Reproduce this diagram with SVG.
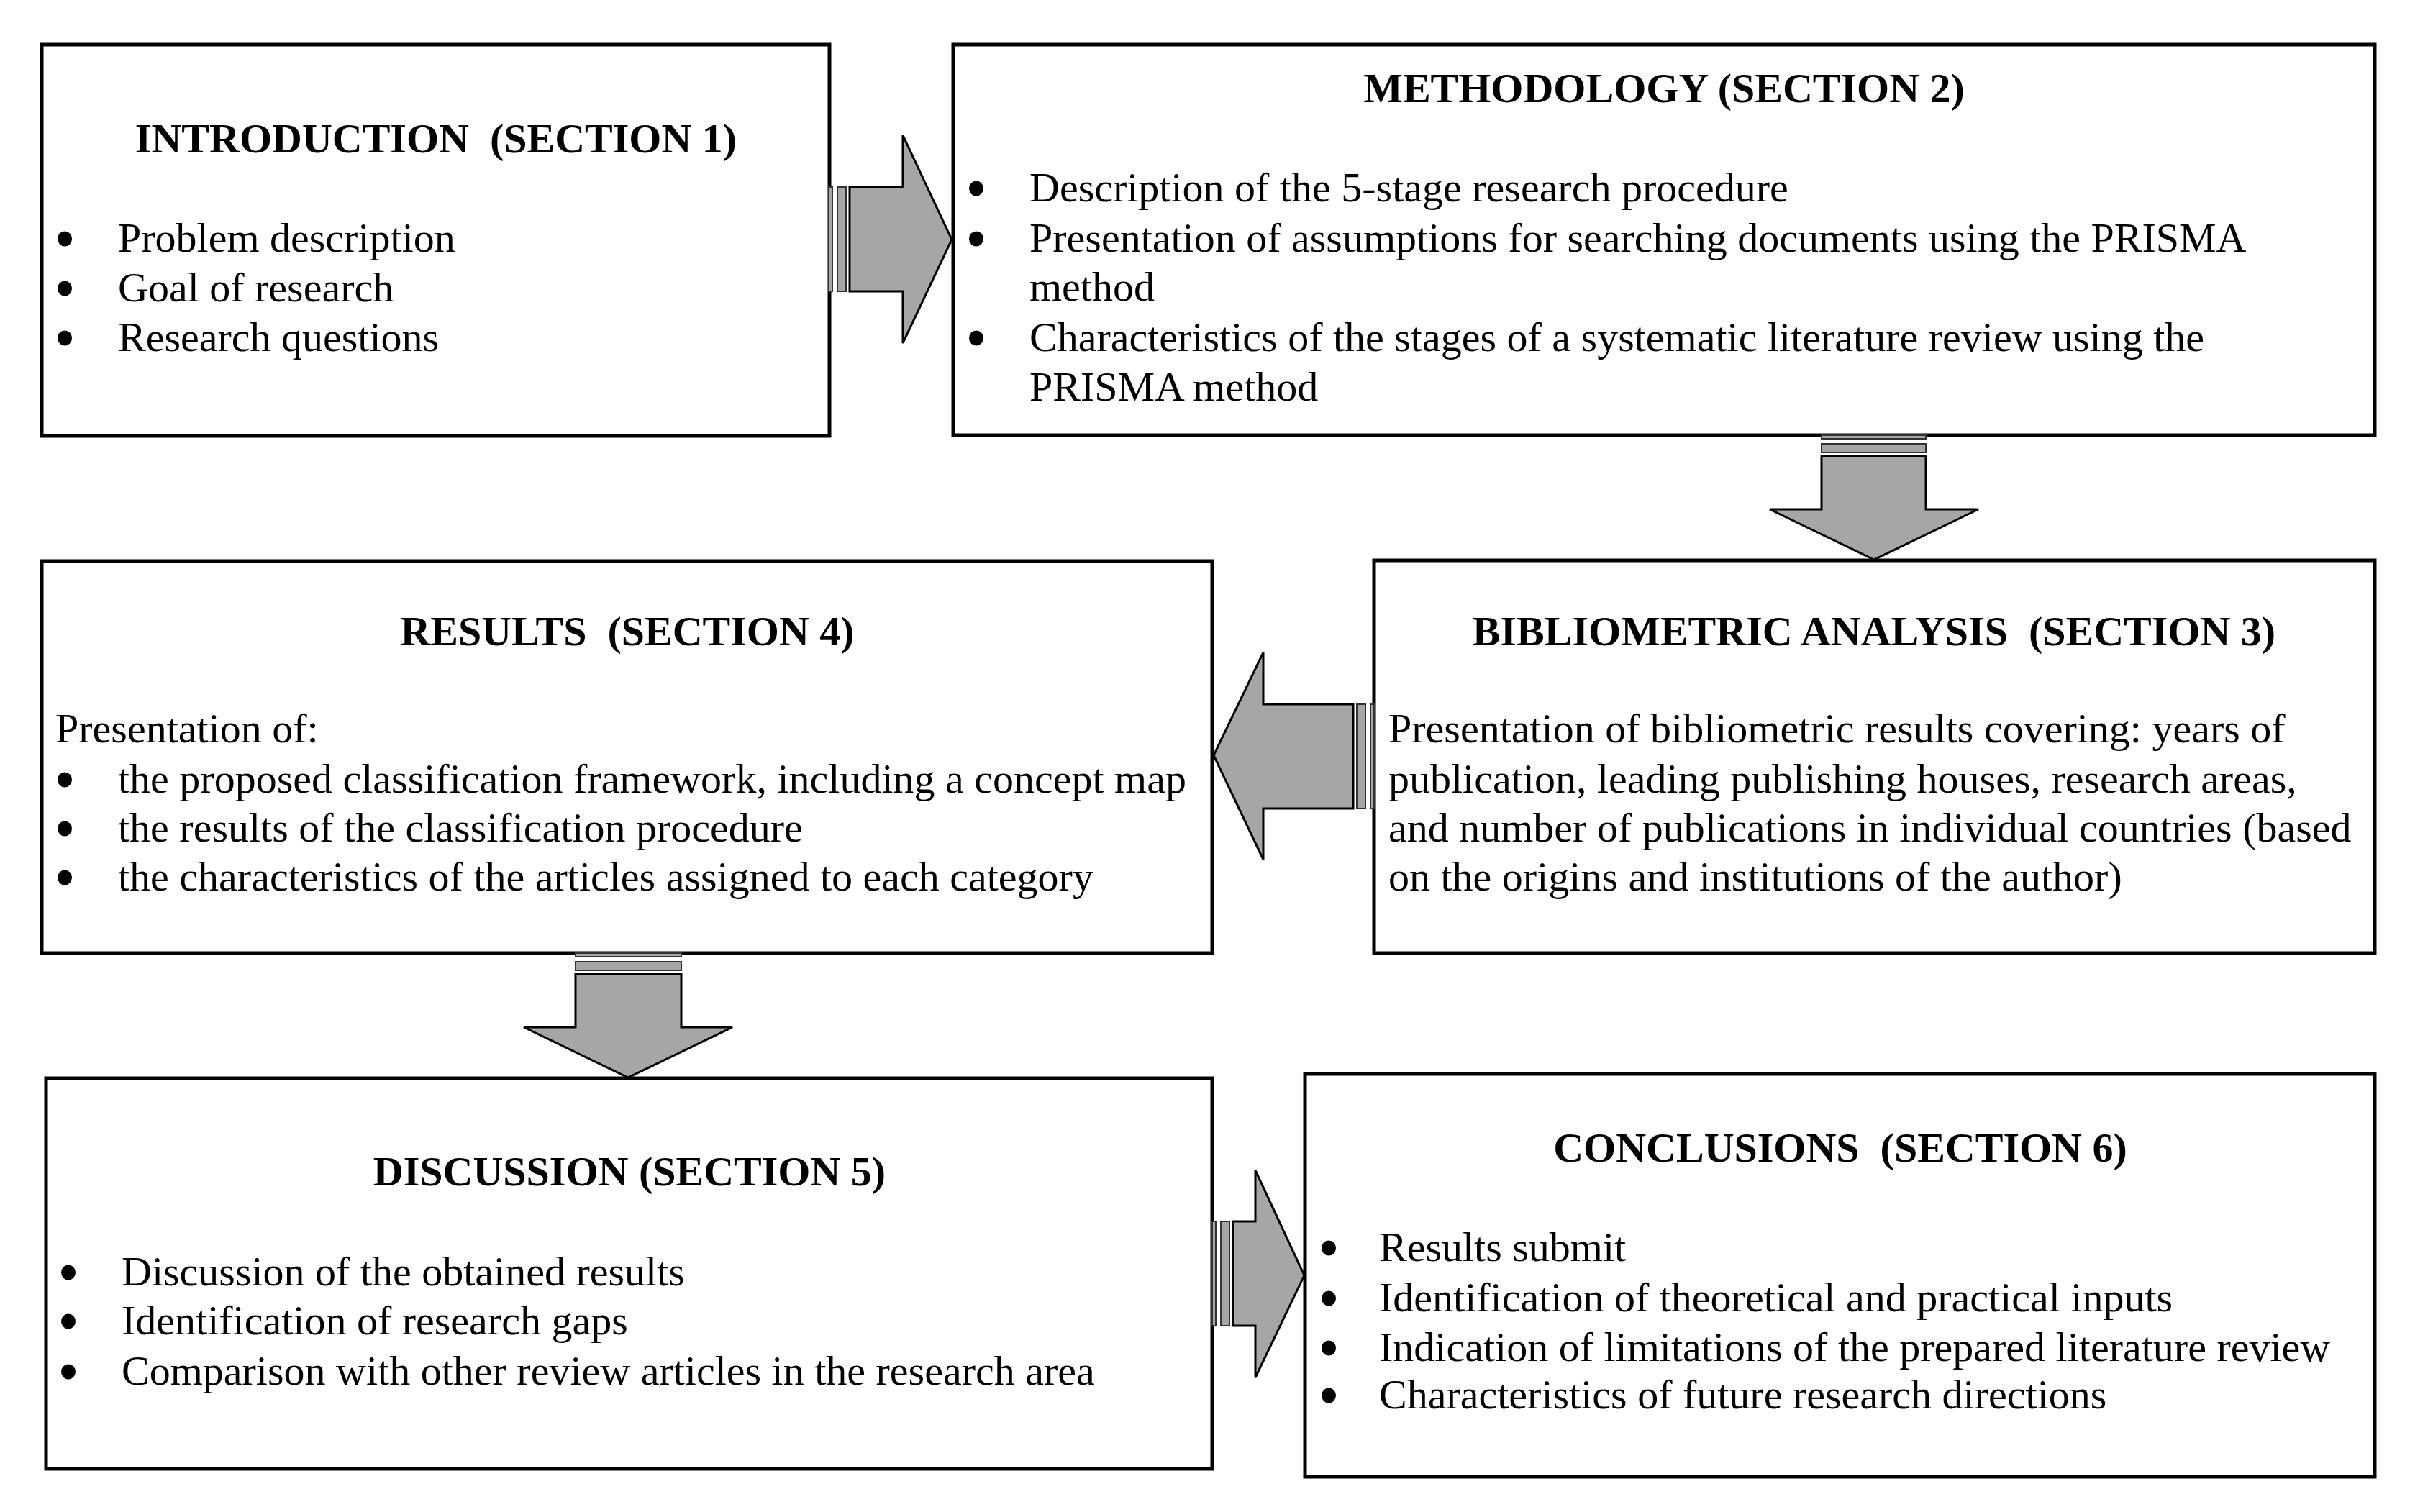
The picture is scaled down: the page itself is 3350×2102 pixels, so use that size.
<svg xmlns="http://www.w3.org/2000/svg" width="3350" height="2102" viewBox="0 0 3350 2102">
<style>
.box{fill:#ffffff;stroke:#000000;stroke-width:5}
.t{font-family:"Liberation Serif","Times New Roman",serif;font-size:58px;fill:#000000}
.h{font-weight:bold;text-anchor:middle;white-space:pre}
.arr{fill:#a6a6a6;stroke:#000000;stroke-width:3;stroke-linejoin:miter}
.str{fill:#a6a6a6;stroke:#333333;stroke-width:2}
.b{fill:#000000}
</style>
<rect width="3350" height="2102" fill="#ffffff"/>

<g id="introduction">
<rect class="box" x="58" y="62" width="1095" height="544"/>
<text class="t h" x="606" y="212" xml:space="preserve">INTRODUCTION  (SECTION 1)</text>
<ellipse class="b" cx="90" cy="332" rx="10" ry="10.5"/>
<ellipse class="b" cx="90" cy="401" rx="10" ry="10.5"/>
<ellipse class="b" cx="90" cy="470" rx="10" ry="10.5"/>
<text class="t" x="164" y="350">Problem description</text>
<text class="t" x="164" y="419">Goal of research</text>
<text class="t" x="164" y="488">Research questions</text>
</g>

<g id="methodology">
<rect class="box" x="1325" y="62" width="1976" height="543"/>
<text class="t h" x="2313" y="142">METHODOLOGY (SECTION 2)</text>
<ellipse class="b" cx="1357" cy="262" rx="10" ry="10.5"/>
<ellipse class="b" cx="1357" cy="332" rx="10" ry="10.5"/>
<ellipse class="b" cx="1357" cy="470" rx="10" ry="10.5"/>
<text class="t" x="1431" y="280">Description of the 5-stage research procedure</text>
<text class="t" x="1431" y="350">Presentation of assumptions for searching documents using the PRISMA</text>
<text class="t" x="1431" y="418">method</text>
<text class="t" x="1431" y="488">Characteristics of the stages of a systematic literature review using the</text>
<text class="t" x="1431" y="557">PRISMA method</text>
</g>

<g id="results">
<rect class="box" x="58" y="780" width="1627" height="545"/>
<text class="t h" x="872" y="897" xml:space="preserve">RESULTS  (SECTION 4)</text>
<text class="t" x="77" y="1032">Presentation of:</text>
<ellipse class="b" cx="90" cy="1084" rx="10" ry="10.5"/>
<ellipse class="b" cx="90" cy="1152" rx="10" ry="10.5"/>
<ellipse class="b" cx="90" cy="1220" rx="10" ry="10.5"/>
<text class="t" x="164" y="1102">the proposed classification framework, including a concept map</text>
<text class="t" x="164" y="1170">the results of the classification procedure</text>
<text class="t" x="164" y="1238">the characteristics of the articles assigned to each category</text>
</g>

<g id="bibliometric">
<rect class="box" x="1910" y="779" width="1391" height="546"/>
<text class="t h" x="2605" y="897" xml:space="preserve">BIBLIOMETRIC ANALYSIS  (SECTION 3)</text>
<text class="t" x="1930" y="1032">Presentation of bibliometric results covering: years of</text>
<text class="t" x="1930" y="1102">publication, leading publishing houses, research areas,</text>
<text class="t" x="1930" y="1170">and number of publications in individual countries (based</text>
<text class="t" x="1930" y="1238">on the origins and institutions of the author)</text>
</g>

<g id="discussion">
<rect class="box" x="64" y="1499" width="1621" height="543"/>
<text class="t h" x="875" y="1648">DISCUSSION (SECTION 5)</text>
<ellipse class="b" cx="95" cy="1769" rx="10" ry="10.5"/>
<ellipse class="b" cx="95" cy="1837" rx="10" ry="10.5"/>
<ellipse class="b" cx="95" cy="1907" rx="10" ry="10.5"/>
<text class="t" x="169" y="1787">Discussion of the obtained results</text>
<text class="t" x="169" y="1855">Identification of research gaps</text>
<text class="t" x="169" y="1925">Comparison with other review articles in the research area</text>
</g>

<g id="conclusions">
<rect class="box" x="1814" y="1493" width="1487" height="560"/>
<text class="t h" x="2558" y="1615" xml:space="preserve">CONCLUSIONS  (SECTION 6)</text>
<ellipse class="b" cx="1847" cy="1735" rx="10" ry="10.5"/>
<ellipse class="b" cx="1847" cy="1805" rx="10" ry="10.5"/>
<ellipse class="b" cx="1847" cy="1874" rx="10" ry="10.5"/>
<ellipse class="b" cx="1847" cy="1940" rx="10" ry="10.5"/>
<text class="t" x="1917" y="1753">Results submit</text>
<text class="t" x="1917" y="1823">Identification of theoretical and practical inputs</text>
<text class="t" x="1917" y="1892">Indication of limitations of the prepared literature review</text>
<text class="t" x="1917" y="1958">Characteristics of future research directions</text>
</g>

<g id="connectors">
<g id="arrow-intro-method">
<rect class="str" x="1152" y="260" width="5" height="145"/>
<rect class="str" x="1164" y="260" width="12" height="145"/>
<polygon class="arr" points="1181,260 1255,260 1255,188 1323,333 1255,477 1255,405 1181,405"/>
</g>
<g id="arrow-method-biblio">
<rect class="str" x="2532" y="605" width="145" height="5"/>
<rect class="str" x="2532" y="617" width="145" height="12"/>
<polygon class="arr" points="2532,634 2532,708 2460,708 2605,778 2750,708 2677,708 2677,634"/>
</g>
<g id="arrow-biblio-results">
<rect class="str" x="1905" y="979" width="5" height="145"/>
<rect class="str" x="1886" y="979" width="12" height="145"/>
<polygon class="arr" points="1881,979 1756,979 1756,907 1687,1050 1756,1195 1756,1124 1881,1124"/>
</g>
<g id="arrow-results-discussion">
<rect class="str" x="800" y="1325" width="147" height="5"/>
<rect class="str" x="800" y="1337" width="147" height="12"/>
<polygon class="arr" points="800,1354 800,1428 728,1428 873,1498 1018,1428 947,1428 947,1354"/>
</g>
<g id="arrow-discussion-conclusions">
<rect class="str" x="1685" y="1698" width="5" height="145"/>
<rect class="str" x="1697" y="1698" width="12" height="145"/>
<polygon class="arr" points="1714,1698 1745,1698 1745,1627 1813,1773 1745,1915 1745,1843 1714,1843"/>
</g>
</g>
</svg>
